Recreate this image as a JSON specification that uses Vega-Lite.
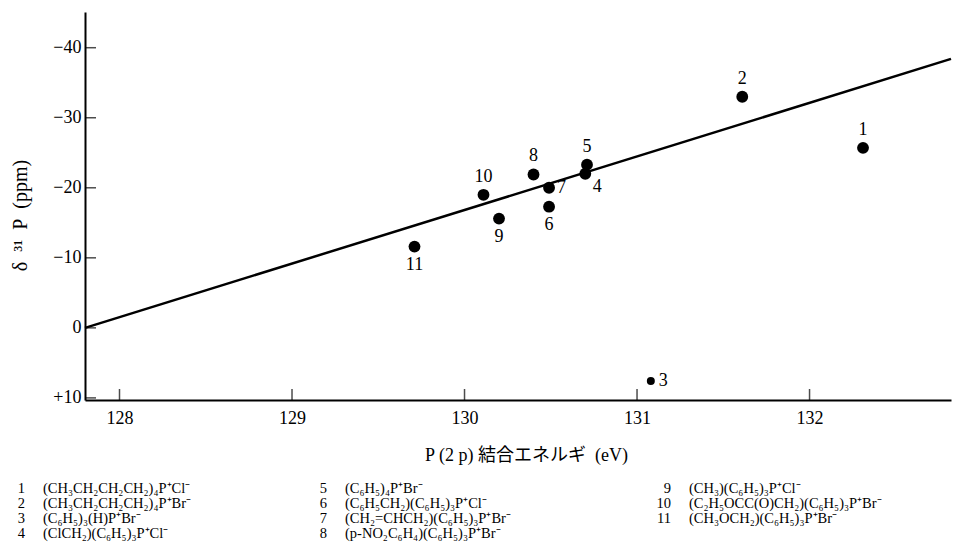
{
  "$schema": "https://vega.github.io/schema/vega-lite/v6.json",
  "width": 866,
  "height": 388,
  "autosize": {"type": "none"},
  "padding": {"left": 85, "top": 12, "right": 6, "bottom": 156},
  "background": "white",
  "config": {
    "view": {"stroke": null},
    "font": "Liberation Serif",
    "text": {"font": "Liberation Serif", "color": "black"}
  },
  "datasets": {
    "compounds": [
      {"id": 1, "energy": 132.31, "shift": -25.7, "formula": "(CH₃CH₂CH₂CH₂)₄P⁺Cl⁻", "col": 1, "row": 1},
      {"id": 2, "energy": 131.61, "shift": -33.0, "formula": "(CH₃CH₂CH₂CH₂)₄P⁺Br⁻", "col": 1, "row": 2},
      {"id": 3, "energy": 131.08, "shift": 7.6, "formula": "(C₆H₅)₃(H)P⁺Br⁻", "col": 1, "row": 3},
      {"id": 4, "energy": 130.70, "shift": -22.0, "formula": "(ClCH₂)(C₆H₅)₃P⁺Cl⁻", "col": 1, "row": 4},
      {"id": 5, "energy": 130.71, "shift": -23.3, "formula": "(C₆H₅)₄P⁺Br⁻", "col": 2, "row": 1},
      {"id": 6, "energy": 130.49, "shift": -17.3, "formula": "(C₆H₅CH₂)(C₆H₅)₃P⁺Cl⁻", "col": 2, "row": 2},
      {"id": 7, "energy": 130.49, "shift": -20.0, "formula": "(CH₂=CHCH₂)(C₆H₅)₃P⁺Br⁻", "col": 2, "row": 3},
      {"id": 8, "energy": 130.40, "shift": -21.9, "formula": "(p-NO₂C₆H₄)(C₆H₅)₃P⁺Br⁻", "col": 2, "row": 4},
      {"id": 9, "energy": 130.20, "shift": -15.6, "formula": "(CH₃)(C₆H₅)₃P⁺Cl⁻", "col": 3, "row": 1},
      {"id": 10, "energy": 130.11, "shift": -19.0, "formula": "(C₂H₅OCC(O)CH₂)(C₆H₅)₃P⁺Br⁻", "col": 3, "row": 2},
      {"id": 11, "energy": 129.71, "shift": -11.6, "formula": "(CH₃OCH₂)(C₆H₅)₃P⁺Br⁻", "col": 3, "row": 3}
    ],
    "fit": [
      {"energy": 127.8, "shift": 0.0},
      {"energy": 132.82, "shift": -38.4}
    ],
    "xticks": [
      {"energy": 128}, {"energy": 129}, {"energy": 130}, {"energy": 131}, {"energy": 132}
    ],
    "yticks": [
      {"shift": -40}, {"shift": -30}, {"shift": -20}, {"shift": -10}, {"shift": 0}, {"shift": 10}
    ]
  },
  "layer": [
    {
      "layer": [
        {
          "data": {"name": "fit"},
          "mark": {"type": "line", "color": "black", "strokeWidth": 2.5},
          "encoding": {
            "x": {
              "field": "energy", "type": "quantitative",
              "scale": {"domain": [127.8, 132.82], "nice": false, "zero": false},
              "axis": {
                "values": [128, 129, 130, 131, 132],
                "format": "d",
                "title": "P (2 p) 結合エネルギ\u2002(eV)",
                "grid": false,
                "ticks": false,
                "domainColor": "black",
                "domainWidth": 2,
                "labelFont": "Liberation Serif",
                "labelFontSize": 18,
                "labelColor": "black",
                "labelPadding": 9,
                "labelFlush": false,
                "titleFont": "Liberation Serif, Noto Sans CJK JP",
                "titleFontSize": 18,
                "titleFontWeight": "normal",
                "titleColor": "black",
                "titleX": 441,
                "titleY": 55,
                "titleBaseline": "middle"
              }
            },
            "y": {
              "field": "shift", "type": "quantitative",
              "scale": {"domain": [-45.1, 10.3], "nice": false, "zero": false, "reverse": true},
              "axis": {
                "values": [-40, -30, -20, -10, 0, 10],
                "labelExpr": "datum.value > 0 ? '+' + datum.value : (datum.value < 0 ? '−' + abs(datum.value) : '0')",
                "title": "δ\u2002³¹\u2002P\u2002(ppm)",
                "grid": false,
                "ticks": false,
                "domainColor": "black",
                "domainWidth": 2,
                "labelFont": "Liberation Serif",
                "labelFontSize": 18,
                "labelColor": "black",
                "labelPadding": 4,
                "titleFont": "Liberation Serif",
                "titleFontSize": 20,
                "titleFontWeight": "normal",
                "titleColor": "black",
                "titleX": -65,
                "titleY": 203,
                "titleAngle": -90,
                "titleBaseline": "middle"
              }
            }
          }
        },
        {
          "data": {"name": "xticks"},
          "mark": {"type": "tick", "orient": "vertical", "color": "black", "size": 11, "thickness": 1.5, "yOffset": -5.5},
          "encoding": {
            "x": {"field": "energy", "type": "quantitative"},
            "y": {"datum": 10.3, "type": "quantitative"}
          }
        },
        {
          "data": {"name": "yticks"},
          "mark": {"type": "tick", "orient": "horizontal", "color": "black", "size": 11, "thickness": 1.5, "xOffset": 5.5},
          "encoding": {
            "x": {"datum": 127.8, "type": "quantitative"},
            "y": {"field": "shift", "type": "quantitative"}
          }
        },
        {
          "data": {"name": "compounds"},
          "transform": [{"filter": "datum.id != 3"}],
          "mark": {"type": "circle", "color": "black", "opacity": 1, "size": 140},
          "encoding": {
            "x": {"field": "energy", "type": "quantitative"},
            "y": {"field": "shift", "type": "quantitative"}
          }
        },
        {
          "data": {"name": "compounds"},
          "transform": [{"filter": "datum.id == 3"}],
          "mark": {"type": "circle", "color": "black", "opacity": 1, "size": 64},
          "encoding": {
            "x": {"field": "energy", "type": "quantitative"},
            "y": {"field": "shift", "type": "quantitative"}
          }
        },
        {
          "data": {"name": "compounds"},
          "transform": [{"filter": "indexof([1, 2, 5, 8, 10], datum.id) >= 0"}],
          "mark": {"type": "text", "fontSize": 18, "dy": -18, "baseline": "middle"},
          "encoding": {
            "x": {"field": "energy", "type": "quantitative"},
            "y": {"field": "shift", "type": "quantitative"},
            "text": {"field": "id"}
          }
        },
        {
          "data": {"name": "compounds"},
          "transform": [{"filter": "indexof([6, 9, 11], datum.id) >= 0"}],
          "mark": {"type": "text", "fontSize": 18, "dy": 18, "baseline": "middle"},
          "encoding": {
            "x": {"field": "energy", "type": "quantitative"},
            "y": {"field": "shift", "type": "quantitative"},
            "text": {"field": "id"}
          }
        },
        {
          "data": {"name": "compounds"},
          "transform": [{"filter": "indexof([3, 7], datum.id) >= 0"}],
          "mark": {"type": "text", "fontSize": 18, "dx": 8, "align": "left", "baseline": "middle"},
          "encoding": {
            "x": {"field": "energy", "type": "quantitative"},
            "y": {"field": "shift", "type": "quantitative"},
            "text": {"field": "id"}
          }
        },
        {
          "data": {"name": "compounds"},
          "transform": [{"filter": "datum.id == 4"}],
          "mark": {"type": "text", "fontSize": 18, "dx": 12, "dy": 13, "baseline": "middle"},
          "encoding": {
            "x": {"field": "energy", "type": "quantitative"},
            "y": {"field": "shift", "type": "quantitative"},
            "text": {"field": "id"}
          }
        }
      ]
    },
    {
      "data": {"name": "compounds"},
      "layer": [
        {
          "mark": {"type": "text", "fontSize": 14.5, "align": "right", "dx": -18, "baseline": "middle"},
          "encoding": {
            "x": {"field": "col", "type": "quantitative", "scale": {"domain": [1, 2, 3], "range": [-42, 260, 604]}, "axis": null},
            "y": {"field": "row", "type": "quantitative", "scale": {"domain": [1, 4], "range": [476.5, 521.5]}, "axis": null},
            "text": {"field": "id"}
          }
        },
        {
          "mark": {"type": "text", "fontSize": 14.5, "align": "left", "baseline": "middle"},
          "encoding": {
            "x": {"field": "col", "type": "quantitative"},
            "y": {"field": "row", "type": "quantitative"},
            "text": {"field": "formula"}
          }
        }
      ]
    }
  ],
  "resolve": {"scale": {"x": "independent", "y": "independent"}}
}
